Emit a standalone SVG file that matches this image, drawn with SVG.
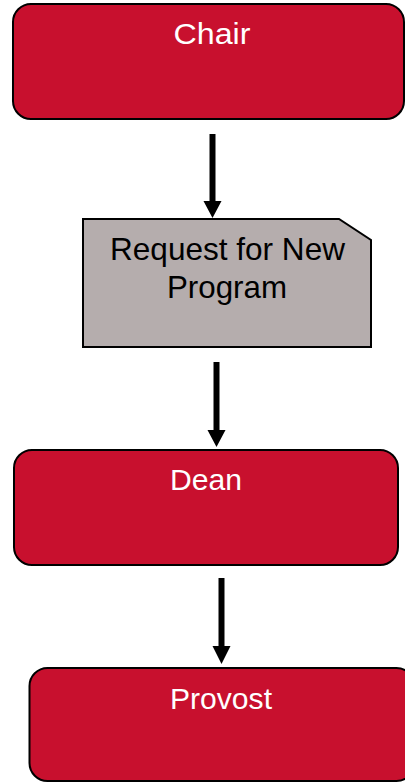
<svg xmlns="http://www.w3.org/2000/svg" width="405" height="782" viewBox="0 0 405 782">
<style>
.box{fill:#c8102e;stroke:#000;stroke-width:2}
.doc{fill:#b5adad;stroke:#000;stroke-width:2}
.lw{font-family:"Liberation Sans",Arial,sans-serif;font-size:30px;fill:#fff;text-anchor:middle}
.lb{font-family:"Liberation Sans",Arial,sans-serif;font-size:30.5px;fill:#000;text-anchor:middle}
.conn{stroke:#000;stroke-width:6;fill:none}
.head{fill:#000}
</style>
<rect width="405" height="782" fill="#fff"/>
<g id="chair">
<rect class="box" x="13" y="4" width="391" height="115" rx="18"/>
<text class="lw" x="212" y="43.5" font-size="31" textLength="77" lengthAdjust="spacingAndGlyphs">Chair</text>
</g>
<g id="request">
<polygon class="doc" points="83,219 339,219 371,240 371,347 83,347"/>
<text class="lb" x="227.5" y="260" textLength="235" lengthAdjust="spacingAndGlyphs">Request for New</text>
<text class="lb" x="227" y="297.5" textLength="120" lengthAdjust="spacingAndGlyphs">Program</text>
</g>
<g id="dean">
<rect class="box" x="14" y="450" width="384" height="115" rx="18"/>
<text class="lw" x="206" y="490" textLength="72" lengthAdjust="spacingAndGlyphs">Dean</text>
</g>
<g id="provost">
<rect class="box" x="29.5" y="668" width="385" height="113" rx="18"/>
<text class="lw" x="221" y="709" textLength="102" lengthAdjust="spacingAndGlyphs">Provost</text>
</g>
<g id="connectors">
<line class="conn" x1="212.5" y1="134" x2="212.5" y2="202"/>
<polygon class="head" points="203.5,201 221.5,201 212.5,218"/>
<line class="conn" x1="216.5" y1="362" x2="216.5" y2="431"/>
<polygon class="head" points="207.5,430 225.5,430 216.5,447"/>
<line class="conn" x1="221.5" y1="578" x2="221.5" y2="647"/>
<polygon class="head" points="212.5,646 230.5,646 221.5,664"/>
</g>
</svg>
